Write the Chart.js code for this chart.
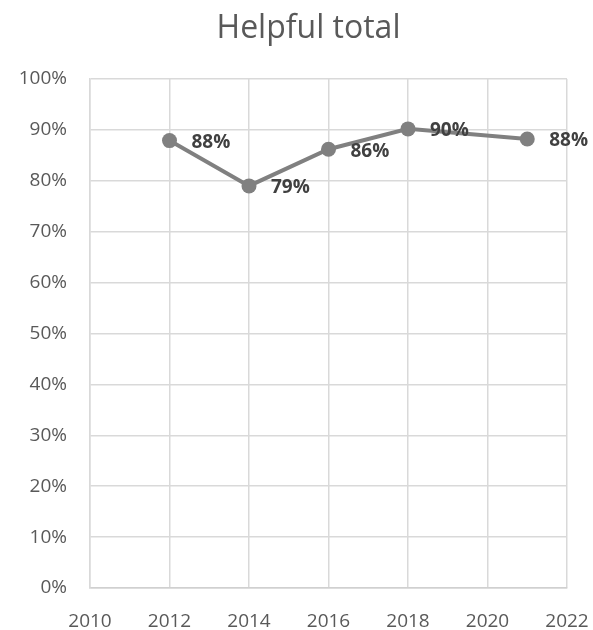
<!DOCTYPE html>
<html>
<head>
<meta charset="utf-8">
<script src="https://cdn.jsdelivr.net/npm/chart.js@4.4.0/dist/chart.umd.min.js"></script>
<style>
  html, body { margin: 0; padding: 0; background: #fff; }
  #wrap { width: 593px; height: 630px; }
</style>
</head>
<body>
<div id="wrap"><canvas id="helpful"></canvas></div>
<script>
  const years = [2012, 2014, 2016, 2018, 2021];
  const helpful = [87.9, 79.0, 86.2, 90.2, 88.2];
  const xTicks = [2010, 2012, 2014, 2016, 2018, 2020, 2022];
  const yTicks = [0, 10, 20, 30, 40, 50, 60, 70, 80, 90, 100];
  const chartTitle = "Helpful total";

  const FONT = "'Open Sans', 'Noto Sans', sans-serif";

  // value labels to the right of each point, title centred over the plot area
  const overlays = {
    id: "overlays",
    afterDatasetsDraw(chart) {
      const { ctx, chartArea } = chart;
      const meta = chart.getDatasetMeta(0);
      ctx.save();
      ctx.font = "bold 19px " + FONT;
      ctx.fillStyle = "#404040";
      ctx.textAlign = "left";
      ctx.textBaseline = "middle";
      meta.data.forEach((pt, i) => {
        const v = chart.data.datasets[0].data[i].y;
        ctx.fillText(Math.round(v) + "%", pt.x + 22, pt.y + 2);
      });

      ctx.font = "32px " + FONT;
      ctx.fillStyle = "#595959";
      ctx.textAlign = "center";
      ctx.fillText(chartTitle, (chartArea.left + chartArea.right) / 2 - 20, 29);
      ctx.restore();
    },
  };

  new Chart(document.getElementById("helpful"), {
    type: "line",
    data: {
      datasets: [
        {
          label: chartTitle,
          data: years.map((y, i) => ({ x: y, y: helpful[i] })),
          borderColor: "#808080",
          backgroundColor: "#808080",
          borderWidth: 4,
          pointRadius: 7.5,
          pointHoverRadius: 7.5,
          pointBorderWidth: 0,
          tension: 0,
        },
      ],
    },
    plugins: [overlays],
    options: {
      responsive: true,
      maintainAspectRatio: false,
      animation: false,
      layout: { padding: { left: 0, right: 26, top: 79, bottom: 0 } },
      plugins: {
        legend: { display: false },
        tooltip: { enabled: false },
        title: { display: false },
      },
      scales: {
        x: {
          type: "linear",
          min: 2010,
          max: 2022,
          afterBuildTicks: (s) => { s.ticks = xTicks.map((v) => ({ value: v })); },
          afterFit: (s) => {
            s.height = 42;
            s.paddingLeft = 0;
            s.paddingRight = 0;
          },
          grid: { color: "#d9d9d9", lineWidth: 1.5, drawTicks: false },
          border: { color: "#d0d0d0", width: 1.5 },
          ticks: {
            color: "#595959",
            font: { family: FONT, size: 19 },
            padding: 22,
            maxRotation: 0,
            callback: (v) => String(v),
          },
        },
        y: {
          min: 0,
          max: 100,
          afterBuildTicks: (s) => { s.ticks = yTicks.map((v) => ({ value: v })); },
          afterFit: (s) => {
            s.width = 90;
            s.paddingTop = 0;
            s.paddingBottom = 0;
          },
          grid: { color: "#d9d9d9", lineWidth: 1.5, drawTicks: false },
          border: { color: "#d9d9d9", width: 1.5 },
          ticks: {
            color: "#595959",
            font: { family: FONT, size: 19 },
            padding: 23,
            callback: (v) => v + "%",
          },
        },
      },
    },
  });
</script>
</body>
</html>
